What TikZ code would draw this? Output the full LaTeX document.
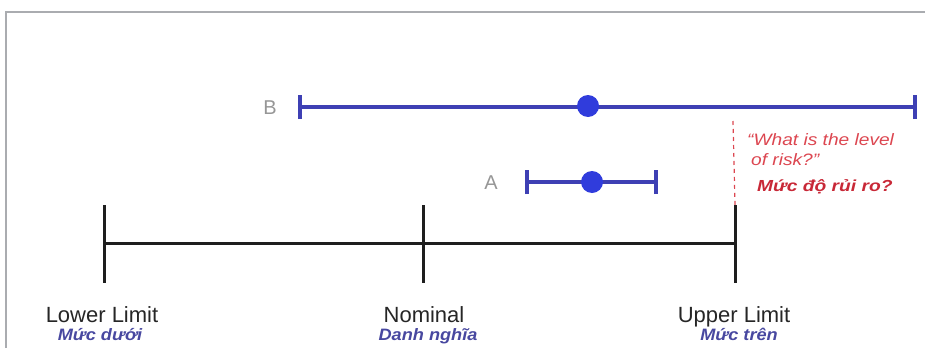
\documentclass[tikz,border=0pt]{standalone}
\usepackage{fontspec}
\setmainfont{Liberation Sans}
\newfontfamily\vnfont{Liberation Sans}
\definecolor{framegray}{RGB}{170,172,176}
\definecolor{labelgray}{RGB}{150,150,150}
\definecolor{barblue}{RGB}{62,64,180}
\definecolor{dotblue}{RGB}{48,60,220}
\definecolor{riskred}{RGB}{220,70,80}
\definecolor{riskdark}{RGB}{200,40,55}
\definecolor{vnblue}{RGB}{72,72,160}
\definecolor{axisblack}{RGB}{30,30,30}
\newcommand{\widetext}[2]{\scalebox{#1}[1]{#2}}
\tikzset{
  axisline/.style={draw=axisblack, line width=3pt},
  barline/.style={draw=barblue, line width=4pt},
  meandot/.style={circle, fill=dotblue, inner sep=0pt, minimum size=22pt},
  caption/.style={anchor=base, font=\fontsize{22}{22}\selectfont, text=black!85, inner sep=0pt},
  vncaption/.style={anchor=base, font=\vnfont\bfseries\itshape\fontsize{16.5}{16.5}\selectfont, text=vnblue, inner sep=0pt},
  letter/.style={font=\fontsize{20}{20}\selectfont, text=labelgray, inner sep=0pt},
  risknote/.style={anchor=base west, inner sep=0pt}
}
\begin{document}
\begin{tikzpicture}[x=1pt, y=-1pt]
\useasboundingbox (0,0) rectangle (925,348);
% outer frame, only top and left edges visible
\draw[framegray, line width=1.5pt] (6,348) -- (6,12) -- (925,12);

% main tolerance axis
\coordinate (lowtop) at (104,205); \coordinate (lowbot) at (104,283);
\coordinate (nomtop) at (423,205); \coordinate (nombot) at (423,283);
\coordinate (uptop) at (735,205);  \coordinate (upbot) at (735,283);
\coordinate (low) at (104,243); \coordinate (nom) at (423,243); \coordinate (up) at (735,243);
\draw[axisline] (lowtop) -- (lowbot);
\draw[axisline] (nomtop) -- (nombot);
\draw[axisline] (uptop) -- (upbot);
\draw[axisline] (low) -- (up);

% process B: wide spread
\coordinate (bl) at (300,107); \coordinate (br) at (915,107);
\draw[barline] (bl) -- (br);
\draw[barline] ([yshift=-12pt]bl) -- ([yshift=12pt]bl);
\draw[barline] ([yshift=-12pt]br) -- ([yshift=12pt]br);
\node[meandot] (bmean) at (588,106) {};
\node[letter] (blab) at (270,108) {B};

% process A: narrow spread
\coordinate (al) at (527,182); \coordinate (ar) at (656,182);
\draw[barline] (al) -- (ar);
\draw[barline] ([yshift=-12pt]al) -- ([yshift=12pt]al);
\draw[barline] ([yshift=-12pt]ar) -- ([yshift=12pt]ar);
\node[meandot] (amean) at (592,182) {};
\node[letter] (alab) at (491,183) {A};

% risk marker beyond the upper limit
\coordinate (risktop) at (733,121);
\draw[riskred, line width=1.2pt, dash pattern=on 4pt off 4pt] (risktop) -- (uptop);
\node[risknote, text=riskred, font=\itshape\fontsize{16.5}{16.5}\selectfont] (q1) at (747,145) {\widetext{1.16}{“What is the level}};
\node[risknote, text=riskred, font=\itshape\fontsize{16.5}{16.5}\selectfont] (q2) at (751,165) {\widetext{1.16}{of risk?”}};
\node[risknote, text=riskdark, font=\vnfont\bfseries\itshape\fontsize{16}{16}\selectfont] (q3) at (757,191) {\widetext{1.2}{Mức độ rủi ro?}};

% axis captions
\node[caption] (lowcap) at (102,322) {Lower Limit};
\node[vncaption] (lowvn) at (100,340) {\widetext{1.1}{Mức dưới}};
\node[caption] (nomcap) at (424,322) {Nominal};
\node[vncaption] (nomvn) at (428,340) {\widetext{1.1}{Danh nghĩa}};
\node[caption] (upcap) at (734,322) {Upper Limit};
\node[vncaption] (upvn) at (739,340) {\widetext{1.1}{Mức trên}};
\end{tikzpicture}
\end{document}
